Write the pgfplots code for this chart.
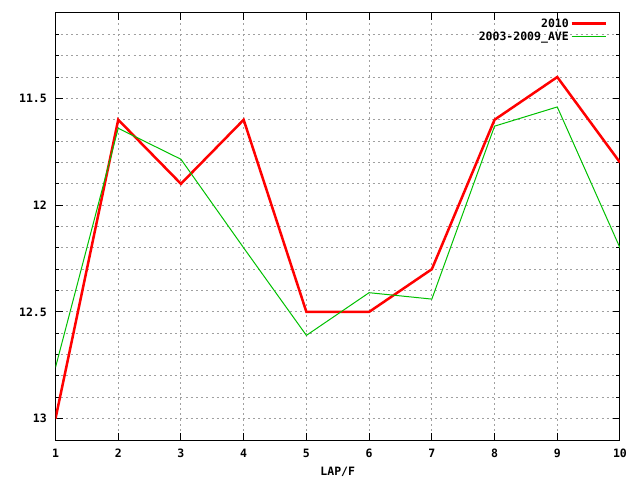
\documentclass[border=0pt]{standalone}
\usepackage{fontspec}
\setmainfont{DejaVu Sans Mono}
\usepackage{pgfplots}
\pgfplotsset{compat=1.18}
\definecolor{gpred}{RGB}{255,0,0}
\definecolor{gpgreen}{RGB}{0,192,0}
\definecolor{gpgrid}{RGB}{160,160,160}

\begin{document}
\begin{tikzpicture}
\path[use as bounding box] (0,0) rectangle (640bp,480bp);
\begin{axis}[
  at={(55.5bp,40bp)}, anchor=south west,
  scale only axis,
  width=564.5bp, height=427bp,
  xmin=1, xmax=10,
  ymin=11.1, ymax=13.1,
  y dir=reverse,
  xtick={1,...,10},
  ytick={11.5,12,12.5,13},
  minor ytick={11.2,11.3,11.4,11.6,11.7,11.8,11.9,12.1,12.2,12.3,12.4,12.6,12.7,12.8,12.9},
  xmajorgrids, ymajorgrids, yminorgrids,
  grid style={gpgrid, line width=1bp, dash pattern=on 2bp off 3.2bp},
  minor grid style={gpgrid, line width=1bp, dash pattern=on 2bp off 3.2bp},
  axis line style={black, line width=1bp},
  tick style={black, line width=1bp},
  tick align=inside,
  xtick pos=both, ytick pos=both,
  major tick length=7bp, minor tick length=3.5bp,
  /pgf/number format/assume math mode=true,
  ticklabel style={font=\fontsize{11.5bp}{13bp}\selectfont\bfseries},
  xticklabel style={anchor=center, inner sep=0pt, yshift=-13bp},
  yticklabel style={anchor=east, inner sep=0pt, xshift=-8.5bp},
  xlabel={LAP/F},
  xlabel style={at={(axis description cs:0.5,0)}, anchor=center, yshift=-32bp,
    inner sep=0pt, font=\fontsize{11.5bp}{13bp}\selectfont\bfseries},
  legend style={at={(axis description cs:1,1)}, anchor=north east,
    xshift=-13bp, yshift=-4bp, draw=none, fill=none, inner sep=0pt,
    row sep=0bp,
    font=\fontsize{11.5bp}{13bp}\selectfont\bfseries,
    nodes={inner sep=1.5bp}},
  legend cell align=right,
  legend plot pos=right,
  legend image code/.code={\draw[#1] (0bp,0bp) -- (34bp,0bp);},
]
\addplot[gpred, line width=2.5bp, line join=miter] coordinates {
  (1,13.0) (2,11.6) (3,11.9) (4,11.6) (5,12.5)
  (6,12.5) (7,12.3) (8,11.6) (9,11.4) (10,11.8)
};
\addplot[gpgreen, line width=1bp] coordinates {
  (1,12.76) (2,11.64) (3,11.785) (4,12.2) (5,12.61)
  (6,12.41) (7,12.44) (8,11.63) (9,11.54) (10,12.2)
};
\legend{2010,2003-2009\_AVE}
\end{axis}
\end{tikzpicture}
\end{document}
